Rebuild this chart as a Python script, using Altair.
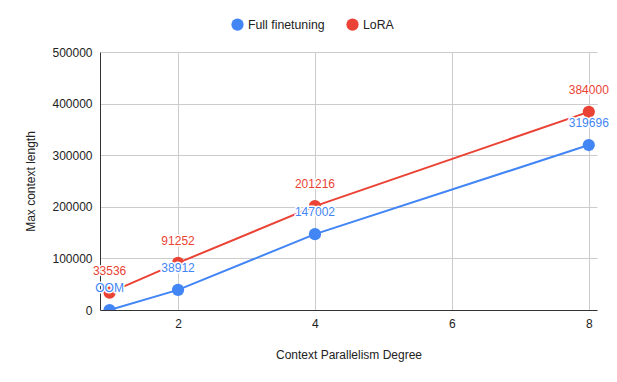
import altair as alt
import pandas as pd

degrees = [1, 2, 4, 8]
series_names = ["Full finetuning", "LoRA"]
full_values = [0, 38912, 147002, 319696]
full_labels = ["OOM", "38912", "147002", "319696"]
lora_values = [33536, 91252, 201216, 384000]
lora_labels = ["33536", "91252", "201216", "384000"]
colors = ["#4285F4", "#EA4335"]

rows = []
for d, v, l in zip(degrees, full_values, full_labels):
    rows.append({"degree": d, "value": v, "label": l, "series": series_names[0]})
for d, v, l in zip(degrees, lora_values, lora_labels):
    rows.append({"degree": d, "value": v, "label": l, "series": series_names[1]})
df = pd.DataFrame(rows)

FONT = "Liberation Sans"

x = alt.X("degree:Q",
          scale=alt.Scale(domain=[0.86, 8.12], nice=False, zero=False),
          axis=alt.Axis(title="Context Parallelism Degree", values=[2, 4, 6, 8],
                        format="d", labelPadding=8, titlePadding=20,
                        tickSize=0, grid=True))
y = alt.Y("value:Q",
          scale=alt.Scale(domain=[0, 500000], nice=False),
          axis=alt.Axis(title="Max context length", values=[0, 100000, 200000, 300000, 400000, 500000],
                        format="d", labelPadding=8, titlePadding=14,
                        tickSize=0, grid=True))
color_scale = alt.Scale(domain=series_names, range=colors)
legend = alt.Legend(title=None, orient="none", direction="horizontal",
                    legendX=131, legendY=-34, symbolType="circle",
                    symbolSize=150, symbolStrokeWidth=0, labelFontSize=12.3,
                    columnPadding=21)
color = alt.Color("series:N", scale=color_scale, legend=legend)

base = alt.Chart(df)

lines = base.mark_line(strokeWidth=2, clip=True).encode(
    x=x, y=y, color=color, detail="series:N",
)
points = base.mark_circle(size=150, opacity=1, clip=True).encode(
    x=x, y=y, color=color,
)
halo = base.mark_text(dy=-22, fontSize=12, font=FONT, stroke="white",
                      strokeWidth=3, strokeJoin="round").encode(
    x=x, y=y, text="label:N", color=color,
)
texts = base.mark_text(dy=-22, fontSize=12, font=FONT).encode(
    x=x, y=y, text="label:N", color=color,
)

chart = alt.layer(lines, points, halo, texts).properties(
    width=497, height=258,
    autosize=alt.AutoSizeParams(type="none"),
    padding={"left": 92, "top": 44, "right": 12, "bottom": 64},
).configure_axis(
    labelFont=FONT, titleFont=FONT, labelFontSize=12, titleFontSize=12,
    labelColor="#222222", titleColor="#222222", titleFontWeight="normal",
    gridColor="#cccccc", domainColor="#333333", domainWidth=1,
).configure_legend(
    labelFont=FONT, labelColor="#222222",
).configure_view(
    stroke=None,
)

chart.save("out.html", embed_options={"renderer": "svg", "actions": False})
